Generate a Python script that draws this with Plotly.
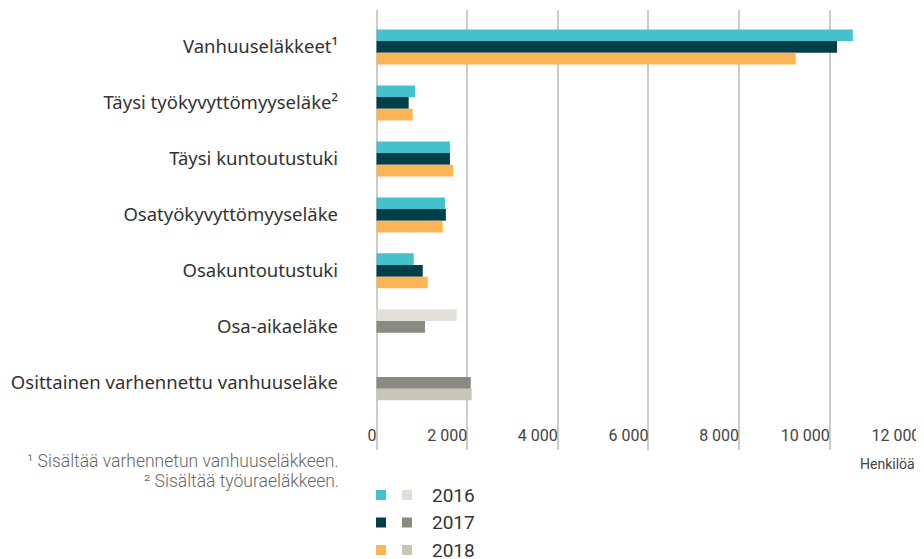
import plotly.graph_objects as go

categories = [
    "Vanhuuseläkkeet¹",
    "Täysi työkyvyttömyyseläke²",
    "Täysi kuntoutustuki",
    "Osatyökyvyttömyyseläke",
    "Osakuntoutustuki",
    "Osa-aikaeläke",
    "Osittainen varhennettu vanhuuseläke",
]
years = ["2016", "2017", "2018"]
values_2016 = [10510, 850, 1620, 1510, 820, 1770, None]
values_2017 = [10160, 710, 1620, 1530, 1020, 1070, 2080]
values_2018 = [9250, 800, 1690, 1460, 1130, None, 2100]
x_ticks = [0, 2000, 4000, 6000, 8000, 10000, 12000]

main_colors = {"2016": "#45C1CC", "2017": "#023D4A", "2018": "#FBB557"}
grey_colors = {"2016": "#E2DFD8", "2017": "#8A8A80", "2018": "#C9C6B8"}
grey_cats = {"Osa-aikaeläke", "Osittainen varhennettu vanhuuseläke"}

FONT = "Noto Sans"
W, H = 916, 551
L, R, T, B = 354, 0, 2, 109
PW, PH = W - L - R, H - T - B

fig = go.Figure()
for yr, vals in zip(years, [values_2016, values_2017, values_2018]):
    cols = [grey_colors[yr] if c in grey_cats else main_colors[yr] for c in categories]
    fig.add_trace(go.Bar(
        y=categories, x=vals, orientation="h", name=yr,
        marker=dict(color=cols, line=dict(width=0)),
        hoverinfo="x+name",
    ))

fig.update_layout(
    width=W, height=H,
    margin=dict(l=L, r=R, t=T, b=B, autoexpand=False),
    paper_bgcolor="white", plot_bgcolor="white",
    barmode="group", bargap=0.375, bargroupgap=0,
    showlegend=False,
    separators=", ",
    font=dict(family=FONT, color="#333333"),
)
fig.update_xaxes(
    range=[-320, 12080], tickvals=x_ticks, tickformat=",d",
    ticklabelposition="inside left",
    tickfont=dict(family="Roboto", size=16, color="#444444"),
    showgrid=True, gridcolor="#CCCCCC", gridwidth=1.5,
    zeroline=False, showline=False, ticks="",
)
fig.update_yaxes(
    type="category", categoryorder="array", categoryarray=categories,
    range=[7.2, -0.66],
    tickfont=dict(family=FONT, size=18.5, color="#333333"),
    ticklabelstandoff=23,
    showgrid=False, zeroline=False, showline=False, ticks="",
)

# axis unit label
fig.add_annotation(text="Henkilöä", xref="x", yref="paper", x=12000, y=0,
                   xanchor="right", yanchor="top", yshift=-4, xshift=-3, showarrow=False,
                   font=dict(family="Roboto", size=14, color="#444444"))

# footnotes
foot = ["¹ Sisältää varhennetun vanhuuseläkkeen.", "² Sisältää työuraeläkkeen."]
for i, t in enumerate(foot):
    fig.add_annotation(text=t, xref="paper", yref="paper", x=0, y=0,
                       xanchor="right", yanchor="middle", xshift=-21, yshift=-11 - 20 * i,
                       showarrow=False,
                       font=dict(family="Roboto", size=17.5, color="#666666", weight=300))

# custom legend (positions in page pixels relative to plot area)
plot_left_page = 8 + L
plot_bottom_page = 8 + T + PH
for i, yr in enumerate(years):
    ypix = 495 + 27.5 * i
    ypaper = (plot_bottom_page - ypix) / PH
    for j, col in enumerate([main_colors[yr], grey_colors[yr]]):
        x0 = 376 + 26 * j - plot_left_page
        fig.add_shape(type="rect", xref="paper", yref="paper",
                      x0=x0 / PW, x1=(x0 + 10) / PW,
                      y0=ypaper - 5 / PH, y1=ypaper + 5 / PH,
                      fillcolor=col, line=dict(width=0))
    fig.add_annotation(text=yr, xref="paper", yref="paper",
                       x=(430 - plot_left_page) / PW, y=ypaper,
                       xanchor="left", yanchor="middle", showarrow=False,
                       font=dict(family="Roboto", size=19, color="#333333"))

fig.write_html("out.html")
